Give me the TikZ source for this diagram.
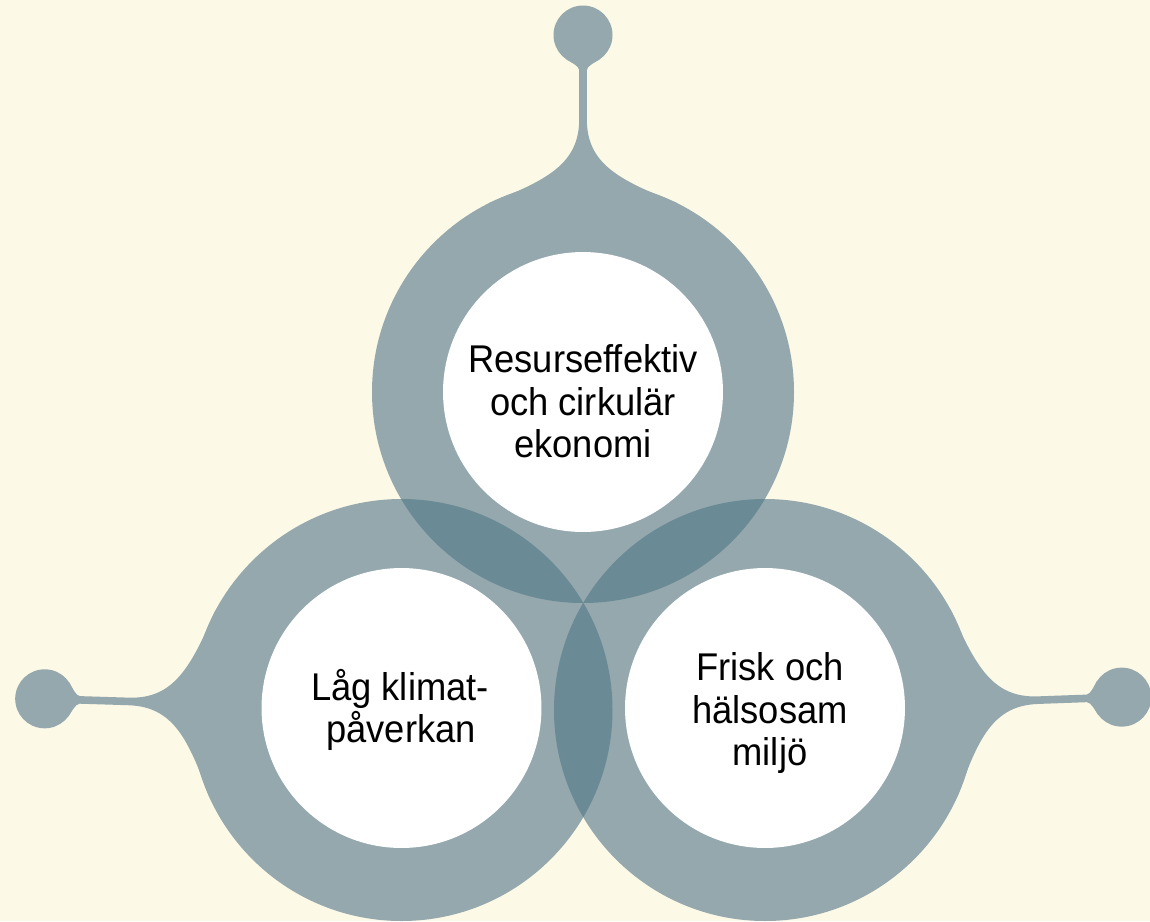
\documentclass[tikz,border=0pt]{standalone}
\usepackage{fontspec}
\setmainfont{Liberation Sans}[FakeStretch=0.94]
\definecolor{bgc}{HTML}{FCF9E6}
\definecolor{ringc}{HTML}{94A8AE}
\definecolor{lensc}{HTML}{6A8A96}
\newcommand\stemshape{%
  \fill[ring] (189,-94) .. controls (212,-36) and (228,-3.8) .. (273,-3.8) -- (322,-3.8)
    .. controls (326,-3.8) and (330.1,-12.9) .. (333,-17) -- (333,17)
    .. controls (330.1,12.9) and (326,3.8) .. (322,3.8) -- (273,3.8)
    .. controls (228,3.8) and (212,36) .. (189,94) -- cycle;
  \fill[ring] (357,0) circle[radius=29.5];}
\begin{document}
\begin{tikzpicture}[x=0.02cm,y=-0.02cm,
  ring/.style={fill=ringc},
  lensfill/.style={fill=lensc},
  disc/.style={circle,fill=white,minimum size=5.6cm,inner sep=0pt},
  lbl/.style={anchor=base,inner sep=0pt,font=\fontsize{22}{26}\selectfont,text=black}]
\useasboundingbox (0,0) rectangle (1150,921);
\fill[bgc] (0,0) rectangle (1150,921);
\begin{scope}
\clip (0,0) rectangle (1150,921);
\coordinate (cT) at (583,392);
\coordinate (cL) at (401.5,710);
\coordinate (cR) at (765,710);
% rings
\fill[ring] (cT) circle[radius=211];
\fill[ring] (cL) circle[radius=211];
\fill[ring] (cR) circle[radius=211];
% stems
\begin{scope}[shift={(cT)},rotate=90] \stemshape \end{scope}
\begin{scope}[shift={(cL)},rotate=178.2] \stemshape \end{scope}
\begin{scope}[shift={(cR)},rotate=2.07] \stemshape \end{scope}
% overlaps
\begin{scope}
\clip (cT) circle[radius=211];
\fill[lensfill] (cL) circle[radius=211];
\fill[lensfill] (cR) circle[radius=211];
\end{scope}
\begin{scope}
\clip (cL) circle[radius=211];
\fill[lensfill] (cR) circle[radius=211];
\end{scope}
\end{scope}
% inner discs
\node[disc] (top) at (583,392) {};
\node[disc] (left) at (401.5,708) {};
\node[disc] (right) at (765,708) {};
% labels
\node[lbl] (t1) at (583,372) {Resurseffektiv};
\node[lbl] (t2) at (583,415) {och cirkulär};
\node[lbl] (t3) at (583,457) {ekonomi};
\node[lbl] (l1) at (400,700) {Låg klimat-};
\node[lbl] (l2) at (401,742) {påverkan};
\node[lbl] (r1) at (770,680) {Frisk och};
\node[lbl] (r2) at (770,723) {hälsosam};
\node[lbl] (r3) at (770,765) {miljö};
\end{tikzpicture}
\end{document}
